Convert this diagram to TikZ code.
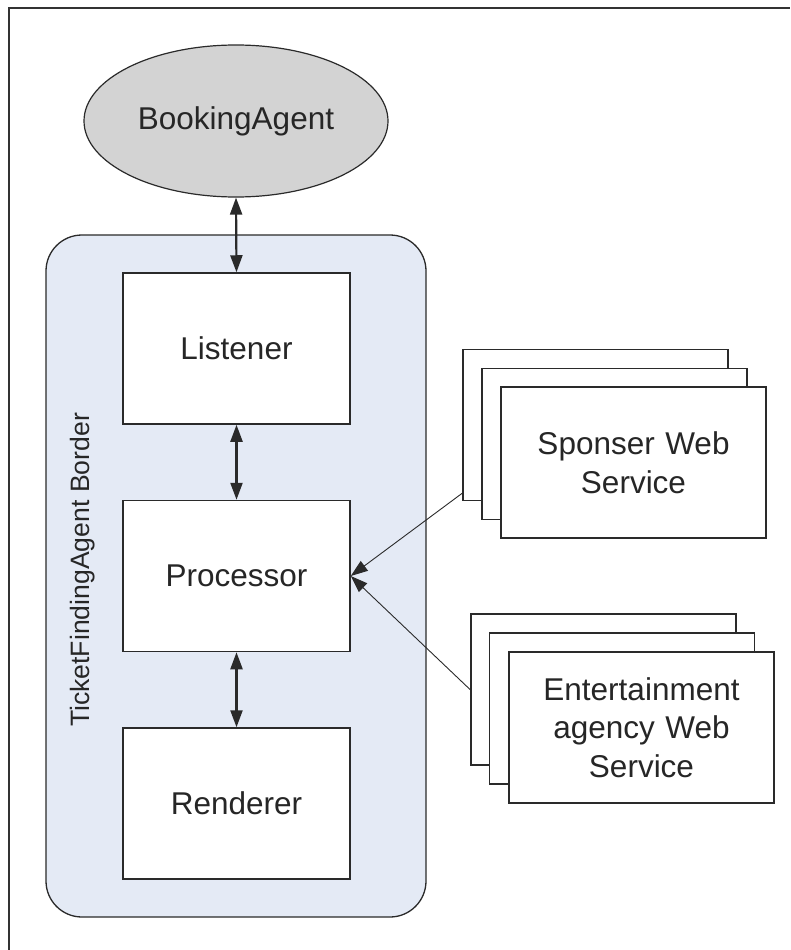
\documentclass[tikz,border=0pt]{standalone}
\usepackage{fontspec}
\setmainfont{Liberation Sans}
\usetikzlibrary{shapes.geometric,arrows.meta}
\definecolor{agentgray}{HTML}{D3D3D3}
\definecolor{borderblue}{HTML}{E4EAF5}
\definecolor{linegray}{HTML}{2A2A2A}
\begin{document}
\begin{tikzpicture}[x=1pt,y=-1pt,
  txt/.style={font=\fontsize{31.5}{38.5}\selectfont, text=black!85},
  compbox/.style={draw=linegray, line width=1.5pt, fill=white, minimum width=227pt, minimum height=151pt, inner sep=0pt, txt},
  svcbox/.style={draw=linegray, line width=1.5pt, fill=white, minimum width=265pt, minimum height=151pt, inner sep=0pt, txt, align=center},
  biarrow/.style={line width=2.2pt, draw=linegray, {Triangle[length=17pt,width=12pt]}-{Triangle[length=17pt,width=12pt]}},
  inarrow/.style={line width=0.9pt, draw=linegray, -{Triangle[length=17pt,width=12pt]}}
]
\useasboundingbox (0,0) rectangle (790,950);
% outer frame (top and left edges visible)
\draw[line width=1.5pt, draw=black!80] (9,950) -- (9,8) -- (790,8);

% container
\node[draw=linegray, line width=1.3pt, fill=borderblue, rounded corners=36pt,
      minimum width=380pt, minimum height=682pt] (border) at (236,576) {};
\node[txt, font=\fontsize{26.6}{32}\selectfont, rotate=90] (borderlabel) at (83,570) {TicketFindingAgent Border};

% booking agent
\node[ellipse, draw=linegray, line width=1.2pt, fill=agentgray, minimum width=304pt, minimum height=152pt, inner sep=0pt, txt] (agent) at (236,121) {BookingAgent};

% components
\node[compbox] (listener) at (236.5,348.5) {Listener};
\node[compbox] (processor) at (236.5,576) {Processor};
\node[compbox] (renderer) at (236.5,803.5) {Renderer};

% sponsor web service stack
\node[svcbox] (sponB) at (595.7,424.8) {};
\node[svcbox] (sponM) at (614.4,444) {};
\node[svcbox, text width=250pt] (sponF) at (633.5,462.5) {Sponser Web\\Service};

% entertainment stack
\node[svcbox] (entB) at (603.3,689.5) {};
\node[svcbox] (entM) at (622,708.5) {};
\node[svcbox, text width=250pt] (entF) at (641.5,727.5) {Entertainment\\agency Web\\Service};

% connectors
\draw[biarrow] (agent.south) -- (listener.north);
\draw[biarrow] (listener.south) -- (processor.north);
\draw[biarrow] (processor.south) -- (renderer.north);
\draw[inarrow] ([yshift=8pt]sponB.south west) -- (processor.east);
\draw[inarrow] (entB.west) -- (processor.east);
\end{tikzpicture}
\end{document}
